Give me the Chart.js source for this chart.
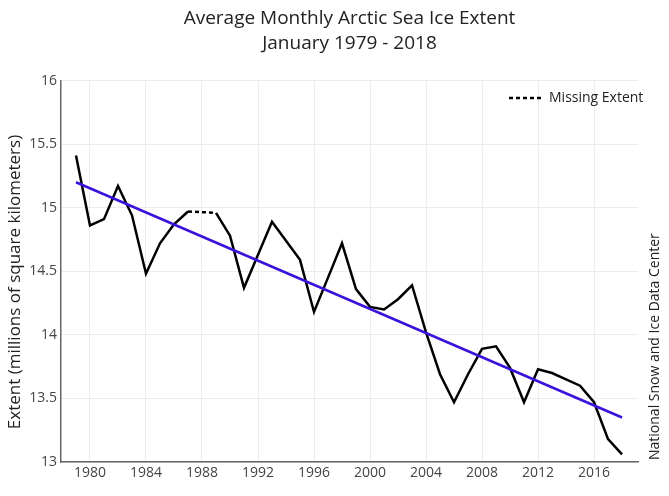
<!DOCTYPE html>
<html>
<head>
<meta charset="utf-8">
<script src="https://cdn.jsdelivr.net/npm/chart.js@4.4.1/dist/chart.umd.min.js"></script>
<style>
html, body { margin: 0; padding: 0; background: #ffffff; }
#wrap { width: 669px; height: 496px; }
</style>
</head>
<body>
<div id="wrap"><canvas id="c" width="669" height="496"></canvas></div>
<script>
// ---- data ----
const years = [1979,1980,1981,1982,1983,1984,1985,1986,1987,1988,1989,1990,1991,1992,1993,1994,1995,1996,1997,1998,1999,2000,2001,2002,2003,2004,2005,2006,2007,2008,2009,2010,2011,2012,2013,2014,2015,2016,2017,2018];
const extent = [15.41,14.86,14.91,15.17,14.94,14.48,14.72,14.87,14.97,null,14.96,14.78,14.37,14.63,14.89,14.74,14.59,14.18,14.45,14.72,14.36,14.22,14.20,14.28,14.39,14.02,13.69,13.47,13.69,13.89,13.91,13.74,13.47,13.73,13.70,13.65,13.60,13.47,13.18,13.06];
const missingYears = [1987, 1989];
const missingValues = [14.97, 14.96];
const trendYears = [1979, 2018];
const trendValues = [15.20, 13.35];
const xTickYears = [1980,1984,1988,1992,1996,2000,2004,2008,2012,2016];
const yTickValues = [13,13.5,14,14.5,15,15.5,16];
const titleLines = ['Average Monthly Arctic Sea Ice Extent', 'January 1979 - 2018'];
const yAxisTitle = 'Extent (millions of square kilometers)';
const creditText = 'National Snow and Ice Data Center';
const missingLabel = 'Missing Extent';

Chart.defaults.font.family = "'Open Sans', 'DejaVu Sans', sans-serif";
Chart.defaults.color = '#444';

const toPts = (xs, ys) => xs.map((x, i) => ({ x: x, y: ys[i] }));

const sideTextPlugin = {
  id: 'sideText',
  afterDraw(chart) {
    const ctx = chart.ctx;
    ctx.save();
    // right-hand credit, reading bottom to top
    ctx.font = "14px 'Open Sans', sans-serif";
    ctx.fillStyle = '#222';
    ctx.translate(655, chart.chartArea.bottom - 2);
    ctx.rotate(-Math.PI / 2);
    ctx.textAlign = 'left';
    ctx.textBaseline = 'middle';
    ctx.fillText(creditText, 0, 0);
    ctx.restore();

    // y-axis title
    ctx.save();
    ctx.font = "17px 'Open Sans', sans-serif";
    ctx.fillStyle = '#222';
    ctx.translate(15, 282);
    ctx.rotate(-Math.PI / 2);
    ctx.textAlign = 'center';
    ctx.textBaseline = 'middle';
    ctx.fillText(yAxisTitle, 0, 0);
    ctx.restore();
  }
};

const legendPlugin = {
  id: 'missLegend',
  afterDraw(chart) {
    const ds = chart.data.datasets[2];
    const ctx = chart.ctx;
    const y = 98;
    ctx.save();
    ctx.strokeStyle = ds.borderColor;
    ctx.lineWidth = 2.5;
    ctx.setLineDash(ds.borderDash);
    ctx.beginPath();
    ctx.moveTo(509, y);
    ctx.lineTo(541, y);
    ctx.stroke();
    ctx.setLineDash([]);
    ctx.font = "14px 'Open Sans', sans-serif";
    ctx.fillStyle = '#222';
    ctx.textAlign = 'left';
    ctx.textBaseline = 'middle';
    ctx.fillText(ds.label, 549, y);
    ctx.restore();
  }
};

new Chart(document.getElementById('c'), {
  type: 'line',
  data: {
    datasets: [
      {
        label: 'Trend',
        data: toPts(trendYears, trendValues),
        borderColor: '#3a12dc',
        borderWidth: 2.5,
        pointRadius: 0,
        order: 0
      },
      {
        label: 'Extent',
        data: toPts(years, extent),
        borderColor: '#000000',
        borderWidth: 2.5,
        pointRadius: 0,
        spanGaps: false,
        tension: 0,
        order: 1
      },
      {
        label: missingLabel,
        data: toPts(missingYears, missingValues),
        borderColor: '#000000',
        borderWidth: 2.5,
        borderDash: [4, 3],
        pointRadius: 0,
        order: 2
      }
    ]
  },
  options: {
    responsive: false,
    animation: false,
    layout: { padding: { left: 0, right: 31, top: 0, bottom: 0 } },
    plugins: {
      legend: { display: false },
      tooltip: { enabled: false },
      title: {
        display: true,
        fullSize: false,
        text: titleLines,
        color: '#222',
        font: { size: 19, weight: 'normal', lineHeight: 1.33 },
        padding: { top: 6, bottom: 24 }
      }
    },
    scales: {
      x: {
        type: 'linear',
        min: 1977.93,
        max: 2019.14,
        afterBuildTicks(scale) { scale.ticks = xTickYears.map(v => ({ value: v })); },
        afterFit(scale) { scale.height = 34; },
        ticks: {
          font: { size: 14 },
          color: '#444',
          padding: 3,
          callback: v => String(v)
        },
        grid: { color: '#ececec', lineWidth: 1, drawTicks: false },
        border: { color: '#666', width: 1.5 }
      },
      y: {
        type: 'linear',
        min: 13,
        max: 16,
        afterBuildTicks(scale) { scale.ticks = yTickValues.map(v => ({ value: v })); },
        afterFit(scale) { scale.width = 61; },
        ticks: {
          font: { size: 14 },
          color: '#444',
          padding: 4,
          callback: v => String(v)
        },
        grid: { color: '#ececec', lineWidth: 1, drawTicks: false },
        border: { color: '#666', width: 1.5 }
      }
    }
  },
  plugins: [sideTextPlugin, legendPlugin]
});
</script>
</body>
</html>
